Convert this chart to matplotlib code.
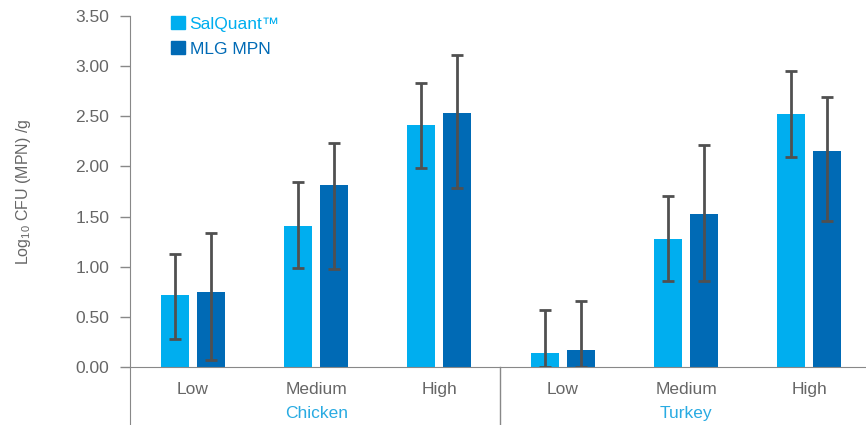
import numpy as np
import matplotlib
matplotlib.use('Agg')
import matplotlib.pyplot as plt
from matplotlib.patches import Patch
from matplotlib.transforms import blended_transform_factory

# ---------------------------------------------------------------------------
# data

levels = ['Low', 'Medium', 'High', 'Low', 'Medium', 'High']
groups = ['Chicken', 'Turkey']

salquant = [0.72, 1.41, 2.41, 0.14, 1.28, 2.52]
salquant_lo = [0.28, 0.99, 1.98, 0.00, 0.86, 2.09]
salquant_hi = [1.13, 1.84, 2.83, 0.57, 1.71, 2.95]

mlg = [0.75, 1.81, 2.53, 0.17, 1.53, 2.15]
mlg_lo = [0.07, 0.98, 1.78, 0.00, 0.86, 1.46]
mlg_hi = [1.34, 2.23, 3.11, 0.66, 2.21, 2.69]

yticks = [0.0, 0.5, 1.0, 1.5, 2.0, 2.5, 3.0, 3.5]

# ---------------------------------------------------------------------------

light = '#00AEEF'
dark = '#006AB5'
grey = '#666666'
err_col = '#505050'

plt.rcParams['font.family'] = ['Liberation Sans', 'DejaVu Sans']

fig = plt.figure(figsize=(8.66, 4.25), dpi=100)
W, H = 866, 425
ax = fig.add_axes([130 / W, (H - 367) / H, (866 - 130) / W, (367 - 16) / H])

x = np.arange(len(levels))
w = 0.227
off = 0.146

sq = np.array(salquant)
mg = np.array(mlg)
sq_err = [sq - np.array(salquant_lo), np.array(salquant_hi) - sq]
mg_err = [mg - np.array(mlg_lo), np.array(mlg_hi) - mg]

ekw = dict(ecolor=err_col, elinewidth=2, capsize=4, capthick=2)
ax.bar(x - off, sq, w, color=light, yerr=sq_err, error_kw=ekw, zorder=2)
ax.bar(x + off, mg, w, color=dark, yerr=mg_err, error_kw=ekw, zorder=2)

ax.set_xlim(-0.51, 5.46)
ax.set_ylim(0, 3.5)
ax.set_yticks(yticks)
ax.set_yticklabels(['%.2f' % v for v in yticks])
ax.set_xticks(x)
ax.set_xticklabels(levels)

ax.tick_params(axis='y', length=7, width=1, color='#888888', labelcolor=grey,
               labelsize=12.5, pad=8)
ax.tick_params(axis='x', length=0, labelcolor=grey, labelsize=12.5, pad=11)

for s in ['top', 'right']:
    ax.spines[s].set_visible(False)
ax.spines['bottom'].set_color('#888888')
ax.spines['left'].set_color('#888888')
ax.spines['left'].set_bounds(-0.58, 3.5)
ax.spines['left'].set_clip_on(False)

# separator between the two groups, below the axis
ax.plot([2.49, 2.49], [0, -0.58], color='#888888', lw=1, clip_on=False)

tr = blended_transform_factory(ax.transData, ax.transAxes)
ax.text(1, -0.133, groups[0], transform=tr, ha='center', va='center',
        color='#29ABE2', fontsize=12.5)
ax.text(4, -0.133, groups[1], transform=tr, ha='center', va='center',
        color='#29ABE2', fontsize=12.5)

ax.set_ylabel(r'Log$_{\mathregular{10}}$ CFU (MPN) /g', color=grey, fontsize=11.5,
              labelpad=30)

handles = [Patch(color=light), Patch(color=dark)]
leg = ax.legend(handles, ['SalQuant™', 'MLG MPN'], loc='upper left',
                bbox_to_anchor=(0.035, 1.045), frameon=False, fontsize=12.5,
                handlelength=0.8, handleheight=0.8, handletextpad=0.25,
                labelspacing=0.55)
leg.get_texts()[0].set_color(light)
leg.get_texts()[1].set_color(dark)

fig.savefig('out.png', dpi=100)
